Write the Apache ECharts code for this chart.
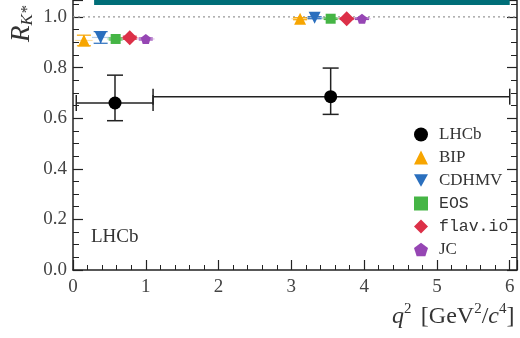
<!DOCTYPE html>
<html><head><meta charset="utf-8">
<script src="https://cdn.jsdelivr.net/npm/echarts@6/dist/echarts.min.js"></script>
<style>html,body{margin:0;padding:0;background:#fff}#c{width:520px;height:338px}</style>
</head><body><div id="c"></div>
<script>
// LHCb measurement
const lhcbX = [0.577, 3.54];
const lhcbY = [0.66, 0.685];
const lhcbXLow = [0.045, 1.1];
const lhcbXHigh = [1.1, 6.0];
const lhcbYLow = [0.59, 0.615];
const lhcbYHigh = [0.77, 0.798];
// theory predictions (two bins)
const bipX = [0.15, 3.12], bipY = [0.907, 0.993], bipErr = [0.021, 0.004];
const cdhmvX = [0.38, 3.32], cdhmvY = [0.919, 0.997], cdhmvErr = [0.023, 0.004];
const eosX = [0.586, 3.54], eosY = [0.913, 0.993], eosErr = [0.004, 0.003];
const flavX = [0.78, 3.76], flavY = [0.918, 0.993], flavErr = [0.006, 0.003];
const jcX = [1.0, 3.97], jcY = [0.913, 0.993], jcErr = [0.004, 0.003];
const xTicks = [0, 1, 2, 3, 4, 5, 6];
const yTicks = [0.0, 0.2, 0.4, 0.6, 0.8, 1.0];
const bandX = [0.29, 6.0], bandY = [1.047, 1.1];

const chart = echarts.init(document.getElementById('c'));
const serif = 'Liberation Serif';
const mono = 'Liberation Mono';

function errSeries(name, xs, ys, lo, hi, xlo, xhi, color, lightColor, cap, width, xcap) {
  const data = xs.map((x, i) => [x, ys[i], lo[i], hi[i], xlo[i], xhi[i]]);
  return {
    type: 'custom', name: name, data: data, z: 3, silent: true,
    renderItem: function (params, api) {
      const x = api.value(0), y = api.value(1);
      const pLo = api.coord([x, api.value(2)]);
      const pHi = api.coord([x, api.value(3)]);
      const pXl = api.coord([api.value(4), y]);
      const pXh = api.coord([api.value(5), y]);
      const st = {stroke: color, lineWidth: width};
      const children = [
        {type: 'line', shape: {x1: pXl[0], y1: pXl[1], x2: pXh[0], y2: pXh[1]}, style: {stroke: lightColor, lineWidth: width}},
        {type: 'line', shape: {x1: pLo[0], y1: pLo[1], x2: pHi[0], y2: pHi[1]}, style: st},
        {type: 'line', shape: {x1: pLo[0] - cap, y1: pLo[1], x2: pLo[0] + cap, y2: pLo[1]}, style: st},
        {type: 'line', shape: {x1: pHi[0] - cap, y1: pHi[1], x2: pHi[0] + cap, y2: pHi[1]}, style: st}
      ];
      if (xcap) {
        children.push({type: 'line', shape: {x1: pXl[0], y1: pXl[1] - xcap, x2: pXl[0], y2: pXl[1] + xcap}, style: st});
        children.push({type: 'line', shape: {x1: pXh[0], y1: pXh[1] - xcap, x2: pXh[0], y2: pXh[1] + xcap}, style: st});
      }
      return {type: 'group', children: children};
    }
  };
}

const downTri = 'path://M0,0 L10,0 L5,9 Z';
const pent = 'path://M5,0 L10,3.6 L8.1,9.5 L1.9,9.5 L0,3.6 Z';

function theory(name, xs, ys, errs, color, light, symbol, size) {
  return [
    errSeries(name + '_err', xs, ys,
      ys.map((y, i) => y - errs[i]), ys.map((y, i) => y + errs[i]),
      xs.map(x => x - 0.12), xs.map(x => x + 0.12), color, light, 7, 1.2, 0),
    {type: 'scatter', name: name, data: xs.map((x, i) => [x, ys[i]]), symbol: symbol,
     symbolSize: size, itemStyle: {color: color, opacity: 1}, z: 5}
  ];
}

const series = [
  {type: 'custom', name: 'band', silent: true, z: 1,
   data: [[bandX[0], bandY[0], bandX[1], bandY[1]]],
   renderItem: function (p, api) {
     const a = api.coord([api.value(0), api.value(3)]);
     const b = api.coord([api.value(2), api.value(1)]);
     return {type: 'rect', shape: {x: a[0], y: a[1], width: b[0] - a[0], height: b[1] - a[1]}, style: {fill: '#006e78'}};
   }},
  {type: 'line', name: 'ref', data: [[0, 1.0], [6.1, 1.0]], symbol: 'none', silent: true, z: 1,
   lineStyle: {color: '#999', width: 1.2, type: [2, 3]}},
  ...theory('BIP', bipX, bipY, bipErr, '#f7a500', 'rgba(247,165,0,0.35)', 'triangle', 12),
  ...theory('CDHMV', cdhmvX, cdhmvY, cdhmvErr, '#2a6fbe', 'rgba(42,111,190,0.35)', downTri, 12),
  ...theory('EOS', eosX, eosY, eosErr, '#45b545', 'rgba(69,181,69,0.35)', 'rect', 10),
  ...theory('flav.io', flavX, flavY, flavErr, '#dc3048', 'rgba(220,48,72,0.35)', 'diamond', 15),
  ...theory('JC', jcX, jcY, jcErr, '#9646b4', 'rgba(150,70,180,0.35)', pent, 10),
  errSeries('LHCb_err', lhcbX, lhcbY, lhcbYLow, lhcbYHigh, lhcbXLow, lhcbXHigh, '#222', '#222', 8, 1.5, 8),
  {type: 'scatter', name: 'LHCb', data: lhcbX.map((x, i) => [x, lhcbY[i]]), symbol: 'circle',
   symbolSize: 13, itemStyle: {color: '#000', opacity: 1}, z: 6}
];

chart.setOption({
  animation: false,
  grid: {left: 73, right: 2, top: 0, bottom: 68, containLabel: false},
  xAxis: {
    type: 'value', min: 0, max: 6.1, interval: 1,
    axisLine: {show: true, lineStyle: {color: '#222', width: 1.5}},
    axisTick: {show: true, inside: true, length: 10, lineStyle: {color: '#222', width: 1.2}},
    minorTick: {show: true, splitNumber: 5, length: 5, lineStyle: {color: '#222', width: 1}},
    splitLine: {show: false}, minorSplitLine: {show: false},
    axisLabel: {fontFamily: serif, fontSize: 19, color: '#444', margin: 8,
      formatter: v => xTicks.indexOf(v) >= 0 ? String(v) : ''}
  },
  yAxis: [{
    type: 'value', min: 0, max: 1.067, interval: 0.2,
    axisLine: {show: true, lineStyle: {color: '#222', width: 1.5}},
    axisTick: {show: true, inside: true, length: 10, lineStyle: {color: '#222', width: 1.2}},
    minorTick: {show: true, splitNumber: 4, length: 6, lineStyle: {color: '#222', width: 1}},
    splitLine: {show: false},
    axisLabel: {fontFamily: serif, fontSize: 19, color: '#444', margin: 6, showMaxLabel: false,
      formatter: v => { const t = yTicks.find(k => Math.abs(k - v) < 1e-6); return t === undefined ? '' : t.toFixed(1); }}
  }, {
    type: 'value', min: 0, max: 1.067, interval: 0.2, position: 'right',
    axisLine: {show: true, lineStyle: {color: '#222', width: 1.5}},
    axisTick: {show: true, inside: true, length: 10, lineStyle: {color: '#222', width: 1.2}},
    splitLine: {show: false}, axisLabel: {show: false}
  }, {
    type: 'value', min: 0, max: 1.067, interval: 0.05, position: 'right',
    axisLine: {show: false},
    axisTick: {show: true, inside: true, length: 6, lineStyle: {color: '#222', width: 1}},
    splitLine: {show: false}, axisLabel: {show: false}
  }],
  legend: {
    orient: 'vertical', left: 409, top: 121, itemGap: 6, itemWidth: 14, itemHeight: 14,
    textStyle: {fontFamily: serif, fontSize: 17, color: '#333', padding: [0, 0, 0, 6]},
    data: [
      {name: 'LHCb', icon: 'circle'},
      {name: 'BIP', icon: 'triangle'},
      {name: 'CDHMV', icon: downTri},
      {name: 'EOS', icon: 'rect', textStyle: {fontFamily: mono, fontSize: 16.5, padding: [0, 0, 0, 6]}},
      {name: 'flav.io', icon: 'diamond', textStyle: {fontFamily: mono, fontSize: 16.5, padding: [0, 0, 0, 6]}},
      {name: 'JC', icon: pent}
    ]
  },
  graphic: [
    {type: 'text', left: 91, top: 228, style: {text: 'LHCb', font: '19px "Liberation Serif"', fill: '#333'}},
    {type: 'text', x: 392, y: 302, style: {
      text: '{i|q}{s|2} {n| [GeV}{s|2}{n|/}{i|c}{s|4}{n|]}',
      rich: {
        i: {fontFamily: serif, fontStyle: 'italic', fontSize: 24, fill: '#333', verticalAlign: 'bottom'},
        n: {fontFamily: serif, fontSize: 24, fill: '#333', verticalAlign: 'bottom'},
        s: {fontFamily: serif, fontSize: 15, fill: '#333', verticalAlign: 'top', padding: [0, 0, 12, 0]}
      }}},
    {type: 'text', x: 7, y: 42, rotation: Math.PI / 2, style: {
      text: '{i|R}{s|K*}',
      rich: {
        i: {fontFamily: serif, fontStyle: 'italic', fontSize: 27, fill: '#333'},
        s: {fontFamily: serif, fontStyle: 'italic', fontSize: 17, fill: '#333', padding: [12, 0, 0, 0]}
      }}}
  ],
  series: series
});
</script></body></html>
